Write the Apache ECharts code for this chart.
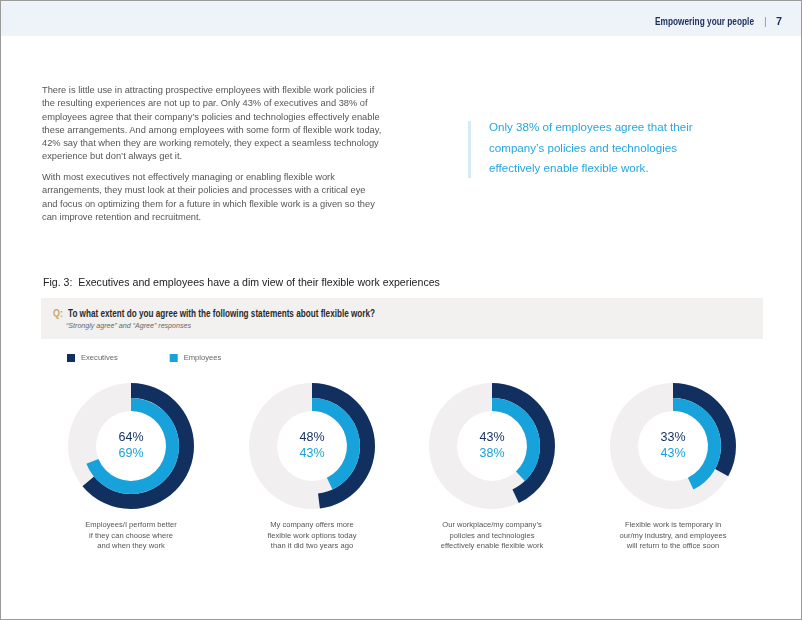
<!DOCTYPE html>
<html>
<head>
<meta charset="utf-8">
<script src="https://cdn.jsdelivr.net/npm/echarts@6/dist/echarts.min.js"></script>
<style>
html,body{margin:0;padding:0;background:#fff;}
#page{position:relative;width:802px;height:620px;overflow:hidden;box-sizing:border-box;border:1px solid #9a9a9a;font-family:"Liberation Sans",Arial,sans-serif;}
#chart{position:absolute;left:0;top:0;width:802px;height:620px;}
.abs{position:absolute;white-space:nowrap;}
.fit{transform-origin:left top;}
#hdr{position:absolute;left:0;top:0;width:802px;height:35px;background:#eef2f9;}
.hd{top:14px;font-size:10.8px;font-weight:bold;color:#1c2f5c;}
.para{left:41px;font-size:9.3px;line-height:13.3px;color:#555;}
#callbar{left:467px;top:120px;width:3px;height:57px;background:#d7ebf7;}
#callout{left:488px;top:116px;font-size:11.6px;line-height:20.5px;color:#27a6df;}
#fig{left:42px;top:275px;font-size:10.6px;color:#222;}
#qbox{left:40px;top:297px;width:722px;height:41px;background:#f3f1f0;}
.q{top:306px;font-size:11px;font-weight:bold;color:#2a2a2a;}
#ql{left:52px;color:#c9a46a;}
#qs{left:65px;top:321px;font-size:7.1px;font-style:italic;color:#666;}
</style>
</head>
<body>
<div id="page">
  <div id="hdr"></div>
  <div id="chart"></div>
  <div id="hname" class="abs hd fit" style="left:654px;">Empowering your people</div>
  <div class="abs hd" style="left:763px;color:#8a96b0;font-weight:normal;">|</div>
  <div class="abs hd" style="left:775px;">7</div>
  <div class="abs para" style="top:83px;">There is little use in attracting prospective employees with flexible work policies if<br>the resulting experiences are not up to par. Only 43% of executives and 38% of<br>employees agree that their company’s policies and technologies effectively enable<br>these arrangements. And among employees with some form of flexible work today,<br>42% say that when they are working remotely, they expect a seamless technology<br>experience but don’t always get it.</div>
  <div class="abs para" style="top:170px;">With most executives not effectively managing or enabling flexible work<br>arrangements, they must look at their policies and processes with a critical eye<br>and focus on optimizing them for a future in which flexible work is a given so they<br>can improve retention and recruitment.</div>
  <div id="callbar" class="abs"></div>
  <div id="callout" class="abs">Only 38% of employees agree that their<br>company’s policies and technologies<br>effectively enable flexible work.</div>
  <div id="fig" class="abs">Fig. 3:&nbsp; Executives and employees have a dim view of their flexible work experiences</div>
  <div id="qbox" class="abs"></div>
  <div id="ql" class="abs q fit">Q:</div>
  <div id="qt" class="abs q fit" style="left:67px;">To what extent do you agree with the following statements about flexible work?</div>
  <div id="qs" class="abs">“Strongly agree” and “Agree” responses</div>
</div>
<script>
// ---- data ----
var statements = [
  "Employees/I perform better\nif they can choose where\nand when they work",
  "My company offers more\nflexible work options today\nthan it did two years ago",
  "Our workplace/my company’s\npolicies and technologies\neffectively enable flexible work",
  "Flexible work is temporary in\nour/my industry, and employees\nwill return to the office soon"
];
var executives = [64, 48, 43, 33];
var employees  = [69, 43, 38, 43];
var seriesNames = ["Executives", "Employees"];

// ---- condensed headings (narrow font emulated) ----
function fitWidth(id, target) {
  var el = document.getElementById(id);
  var w = el.getBoundingClientRect().width;
  if (w > 0) el.style.transform = "scaleX(" + (target / w) + ")";
}
fitWidth("hname", 99);
fitWidth("ql", 10);
fitWidth("qt", 307);

// ---- styles / layout ----
var NAVY = "#12305f", BLUE = "#18a2dc", RING = "#f1efef";
var centersX = [130, 311, 491, 672], centerY = 445;
var rIn = 35, rMid = 48, rOut = 63;

var chart = echarts.init(document.getElementById("chart"), null, {renderer: "canvas"});
var series = [];
var graphics = [];
statements.forEach(function (s, i) {
  var c = [centersX[i], centerY];
  series.push({
    type: "pie", center: c, radius: [rIn, rOut], silent: true, animation: false,
    label: {show: false}, labelLine: {show: false},
    data: [{name: "bg" + i, value: 1, itemStyle: {color: RING}}]
  });
  series.push({
    type: "pie", center: c, radius: [rMid, rOut], startAngle: 90, clockwise: true,
    animation: false, avoidLabelOverlap: false, emphasis: {disabled: true},
    labelLine: {show: false},
    label: {
      show: true, position: "center",
      formatter: function () { return "{a|" + executives[i] + "%}\n{b|" + employees[i] + "%}"; },
      rich: {
        a: {fontSize: 12.5, color: NAVY, lineHeight: 16, fontFamily: "Liberation Sans"},
        b: {fontSize: 12.5, color: BLUE, lineHeight: 16, fontFamily: "Liberation Sans"}
      }
    },
    data: [
      {name: seriesNames[0], value: executives[i], itemStyle: {color: NAVY}},
      {name: "restE" + i, value: 100 - executives[i], itemStyle: {color: "rgba(0,0,0,0)"}, label: {show: false}}
    ]
  });
  series.push({
    type: "pie", center: c, radius: [rIn, rMid], startAngle: 90, clockwise: true,
    animation: false, avoidLabelOverlap: false, emphasis: {disabled: true},
    label: {show: false}, labelLine: {show: false},
    data: [
      {name: seriesNames[1], value: employees[i], itemStyle: {color: BLUE}},
      {name: "restP" + i, value: 100 - employees[i], itemStyle: {color: "rgba(0,0,0,0)"}}
    ]
  });
  graphics.push({
    type: "text", x: centersX[i], y: 519, silent: true,
    style: {text: s, textAlign: "center", fill: "#555", font: "7.6px 'Liberation Sans'", lineHeight: 10.3}
  });
});

chart.setOption({
  animation: false,
  legend: {
    data: seriesNames, left: 66, top: 353, padding: 0, icon: "rect", itemWidth: 8, itemHeight: 8,
    itemGap: 52, selectedMode: false,
    textStyle: {fontSize: 7.6, color: "#666", fontFamily: "Liberation Sans", padding: [0, 0, 0, 1]}
  },
  graphic: graphics,
  series: series
});
</script>
</body>
</html>
